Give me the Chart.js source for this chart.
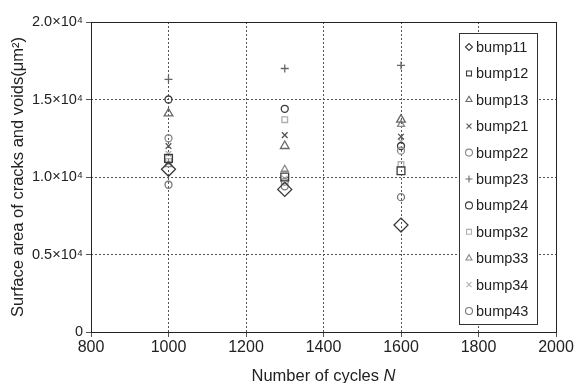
<!DOCTYPE html>
<html>
<head>
<meta charset="utf-8">
<script src="https://cdn.jsdelivr.net/npm/chart.js@4"></script>
<style>
  html, body { margin: 0; padding: 0; background: #fff; }
  #wrap { width: 576px; height: 383px; }
</style>
</head>
<body>
<div id="wrap"><canvas id="crackChart"></canvas></div>
<script>
// cycle counts where bumps were inspected
const cycles = [1000, 1300, 1600];

// surface area of cracks and voids (um^2) per bump
const bump11 = [10500, 9200, 6900];
const bump12 = [11200, 10000, 10400];
const bump13 = [14100, 12000, 13700];
const bump21 = [12000, 12700, 12600];
const bump22 = [12500, 9700, 11700];
const bump23 = [16300, 17000, 17200];
const bump24 = [15000, 14400, 12000];
const bump32 = [11000, 13700, 10800];
const bump33 = [10800, 10500, 13400];
const bump34 = [11500, 9900, 12300];
const bump43 = [9500, 9400, 8700];

const yTickLabels = {0: '0', 5000: '0.5×10⁴', 10000: '1.0×10⁴', 15000: '1.5×10⁴', 20000: '2.0×10⁴'};

const FONT = '"Liberation Sans", Arial, sans-serif';

function series(label, values, style, color, radius) {
    return {
        label: label,
        data: values.map((v, i) => ({x: cycles[i], y: v})),
        pointStyle: style,
        pointRadius: radius || 4,
        pointBorderColor: color,
        pointBackgroundColor: 'rgba(255,255,255,0)',
        pointBorderWidth: 1.3,
        showLine: false
    };
}

const dark = '#3a3a3a';
const light = '#b0b0b0';

const datasets = [
    series('bump11', bump11, 'rectRot', dark, 7),
    series('bump12', bump12, 'rect', dark, 5.5),
    series('bump13', bump13, 'triangle', '#666', 5),
    series('bump21', bump21, 'crossRot', '#555', 4),
    series('bump22', bump22, 'circle', '#888', 3.5),
    series('bump23', bump23, 'cross', '#666', 4),
    series('bump24', bump24, 'circle', dark, 3.5),
    series('bump32', bump32, 'rect', light, 4),
    series('bump33', bump33, 'triangle', '#888', 4),
    series('bump34', bump34, 'crossRot', light, 4),
    series('bump43', bump43, 'circle', '#777', 3.5)
];

// frame, x title with italic N, legend box inside the plot
const decor = {
    id: 'decor',
    afterDraw(chart) {
        const ctx = chart.ctx;
        const a = chart.chartArea;
        ctx.save();
        ctx.strokeStyle = '#222';
        ctx.lineWidth = 1;
        ctx.strokeRect(a.left + 0.5, a.top + 0.5, a.right - a.left, a.bottom - a.top);

        // x axis title
        ctx.fillStyle = '#222';
        ctx.textBaseline = 'alphabetic';
        const t1 = 'Number of cycles ';
        ctx.font = '16.5px ' + FONT;
        const w1 = ctx.measureText(t1).width;
        ctx.font = 'italic 16.5px ' + FONT;
        const w2 = ctx.measureText('N').width;
        const x0 = (a.left + a.right) / 2 - (w1 + w2) / 2;
        ctx.font = '16.5px ' + FONT;
        ctx.textAlign = 'left';
        ctx.fillText(t1, x0, 381);
        ctx.font = 'italic 16.5px ' + FONT;
        ctx.fillText('N', x0 + w1, 381);

        // legend
        const lx = 459, ly = 33, lw = 78, lh = 291;
        ctx.fillStyle = '#fff';
        ctx.fillRect(lx, ly, lw, lh);
        ctx.strokeStyle = '#333';
        ctx.strokeRect(lx + 0.5, ly + 0.5, lw, lh);
        ctx.font = '14.5px ' + FONT;
        ctx.textBaseline = 'middle';
        chart.data.datasets.forEach((ds, i) => {
            const cy = 47 + i * 26.4;
            ctx.strokeStyle = ds.pointBorderColor;
            ctx.fillStyle = 'rgba(255,255,255,0)';
            ctx.lineWidth = 1.1;
            Chart.helpers.drawPoint(ctx, {pointStyle: ds.pointStyle, radius: 3.5, rotation: 0, borderWidth: 1.1}, 469, cy);
            ctx.fillStyle = '#222';
            ctx.fillText(ds.label, 476, cy + 1);
        });
        ctx.restore();
    }
};

new Chart(document.getElementById('crackChart'), {
    type: 'scatter',
    data: {datasets: datasets},
    plugins: [decor],
    options: {
        responsive: true,
        maintainAspectRatio: false,
        animation: false,
        layout: {padding: {left: 9, top: 22, right: 20, bottom: 0}},
        plugins: {legend: {display: false}, tooltip: {enabled: false}},
        scales: {
            x: {
                min: 800, max: 2000,
                afterFit(s) { s.height = 51; },
                ticks: {
                    stepSize: 200, color: '#222', font: {family: FONT, size: 16}, padding: 1, maxRotation: 0,
                    callback: v => String(v)
                },
                grid: {color: '#555', tickLength: 5, lineWidth: 1},
                border: {display: false, dash: [2, 2]}
            },
            y: {
                min: 0, max: 20000,
                afterFit(s) { s.width = 82; },
                ticks: {
                    stepSize: 5000, color: '#222', font: {family: FONT, size: 14.5}, padding: 3,
                    callback: v => yTickLabels[v]
                },
                grid: {color: '#555', tickLength: 5, lineWidth: 1},
                border: {display: false, dash: [2, 2]},
                title: {
                    display: true,
                    text: 'Surface area of cracks and voids(μm²)',
                    color: '#222',
                    font: {family: FONT, size: 16.5},
                    padding: {top: 0, bottom: 0}
                }
            }
        }
    }
});
</script>
</body>
</html>
